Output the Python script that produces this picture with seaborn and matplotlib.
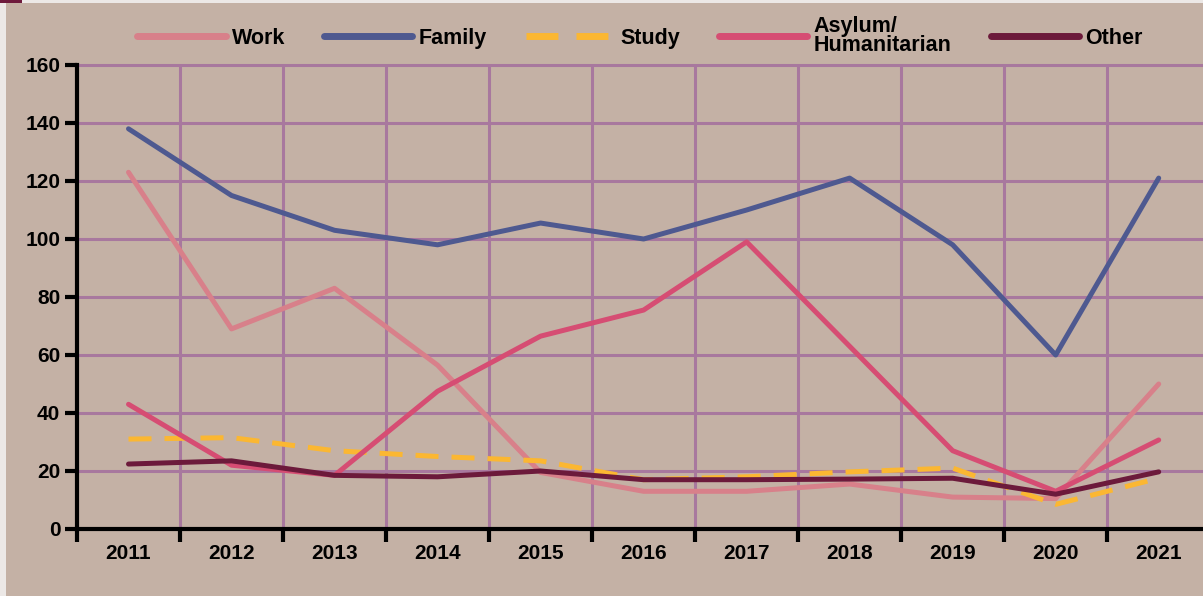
import pandas as pd
import numpy as np
import matplotlib
matplotlib.use('Agg')
import matplotlib.pyplot as plt
import seaborn as sns
from matplotlib.patches import Rectangle

years = ['2011', '2012', '2013', '2014', '2015', '2016', '2017', '2018', '2019', '2020', '2021']
work = [123, 69, 83, 56.5, 19.5, 13, 13, 15.5, 11, 10.5, 50]
family = [138, 115, 103, 98, 105.5, 100, 110, 121, 98, 60, 121]
study = [31, 31.5, 27, 25, 23.5, 17, 18, 19.7, 21, 8.5, 17.5]
asylum = [43, 22, 18.5, 47.5, 66.5, 75.5, 99, 63, 27, 13, 30.7]
other = [22.4, 23.5, 18.5, 18, 20, 17, 17, 17.2, 17.5, 12, 19.7]

series_names = ['Work', 'Family', 'Study', 'Asylum/\nHumanitarian', 'Other']
colors = ['#d8808a', '#4e5990', '#fbb732', '#d64d73', '#6c1a3b']

df = pd.DataFrame({'year': years, 'Work': work, 'Family': family, 'Study': study,
                   'Asylum/\nHumanitarian': asylum, 'Other': other})
df['x'] = np.arange(len(years))
long = df.melt(id_vars=['year', 'x'], value_vars=series_names, var_name='series', value_name='value')

sns.set_style('white')
plt.rcParams['font.family'] = ['Liberation Sans', 'DejaVu Sans']
plt.rcParams['font.weight'] = 'bold'
plt.rcParams['text.color'] = 'black'
plt.rcParams['xtick.color'] = 'black'
plt.rcParams['ytick.color'] = 'black'

bg = '#c4b1a5'
gridc = '#a8789e'

fig = plt.figure(figsize=(12.03, 5.96), dpi=100)
fig.patch.set_facecolor('#ece8e6')
fig.patches.append(Rectangle((6 / 1203, 0), 1 - 6 / 1203, 1 - 3 / 596, transform=fig.transFigure,
                             facecolor=bg, edgecolor='none', zorder=-5))
fig.patches.append(Rectangle((0, 1 - 3 / 596), 22 / 1203, 3 / 596, transform=fig.transFigure,
                             facecolor='#6e1a3c', edgecolor='none', zorder=-5))
ax = fig.add_axes([77 / 1203, 1 - 529 / 596, 1 - 77 / 1203, (529 - 65) / 596])
ax.set_facecolor(bg)

sns.lineplot(data=long, x='x', y='value', hue='series', style='series',
             hue_order=series_names, style_order=series_names,
             palette=colors,
             dashes={'Work': '', 'Family': '', 'Study': (4.6, 2.6),
                     'Asylum/\nHumanitarian': '', 'Other': ''},
             ax=ax, zorder=3)
for ln in ax.lines:
    ln.set_linewidth(3.6)
    ln.set_solid_capstyle('round')

ax.set_xlim(-0.5, 10.43)
ax.set_ylim(0, 160)
ax.set_yticks(range(0, 161, 20))
ax.set_xticks(np.arange(-0.5, 10, 1))
ax.set_xticklabels([])
ax.set_xticks(np.arange(0, 11), minor=True)
ax.set_xticklabels(years, minor=True)
ax.tick_params(axis='x', which='major', bottom=True, length=9, width=3, color='black', direction='out')
ax.tick_params(axis='x', which='minor', bottom=True, length=0, pad=11, labelsize=15, labelcolor='black')
ax.tick_params(axis='y', left=True, length=9, width=3, color='black', direction='out', labelsize=15,
               pad=3, labelcolor='black')
for t in ax.get_xticklabels(minor=True) + ax.get_yticklabels():
    t.set_fontweight('bold')

for yv in range(20, 161, 20):
    ax.axhline(yv, color=gridc, lw=2.2, zorder=1, clip_on=False)
for xv in np.arange(0.5, 10, 1):
    ax.axvline(xv, color=gridc, lw=2.2, zorder=1)

for side in ['top', 'right']:
    ax.spines[side].set_visible(False)
ax.spines['left'].set_linewidth(3)
ax.spines['bottom'].set_linewidth(3)
ax.spines['left'].set_color('black')
ax.spines['bottom'].set_color('black')
ax.spines['left'].set_zorder(4)
ax.spines['bottom'].set_zorder(4)
ax.set_xlabel('')
ax.set_ylabel('')

handles, labels = ax.get_legend_handles_labels()
for h in handles:
    h.set_linewidth(5)
leg = ax.legend(handles, labels, loc='center', bbox_to_anchor=(0.5, 1 + 29 / 464), ncol=5,
                frameon=False, handlelength=4.1, handletextpad=0.3, columnspacing=1.8,
                prop={'weight': 'bold', 'size': 15.5}, borderaxespad=0)
for t in leg.get_texts():
    t.set_linespacing(0.9)
    t.set_color('black')

fig.savefig('out.png', dpi=100, facecolor=fig.get_facecolor())
